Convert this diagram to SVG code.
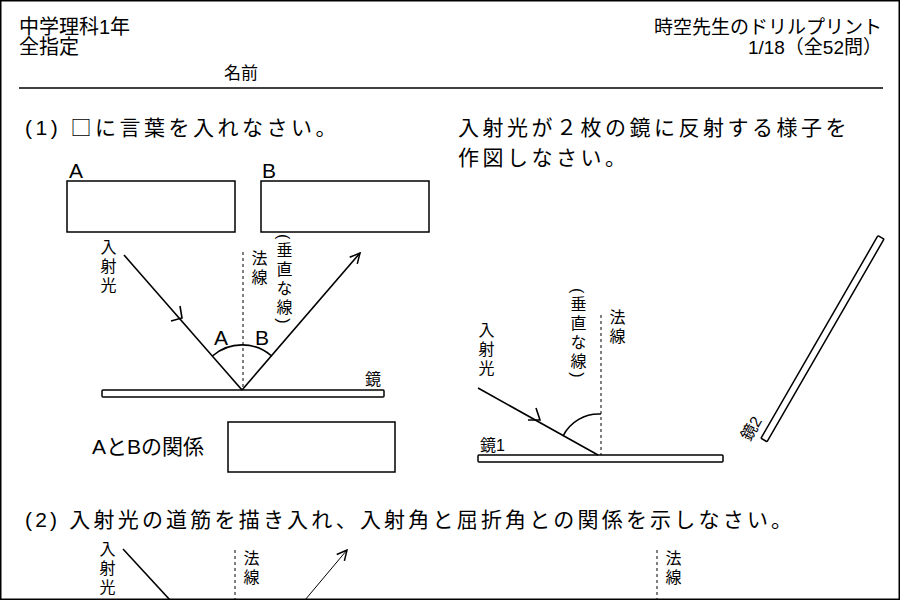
<svg xmlns="http://www.w3.org/2000/svg" width="900" height="600" viewBox="0 0 900 600">
<style>
text{font-family:"Liberation Sans","Noto Sans CJK JP",sans-serif;fill:#000}
.v{writing-mode:vertical-rl;font-size:16px;letter-spacing:3px}
.ln{stroke:#000;stroke-width:1.6;fill:none}
.dash{stroke:#000;stroke-width:1;stroke-dasharray:3,3;fill:none}
.box{fill:#fff;stroke:#000;stroke-width:1.5}
.cjk{font-family:"Noto Sans CJK JP",sans-serif}
</style>
<defs>
<marker id="ah" viewBox="0 0 12 12" refX="11" refY="6" markerWidth="12" markerHeight="12" markerUnits="userSpaceOnUse" orient="auto"><path d="M1,1 L11,6 L1,11" fill="none" stroke="#000" stroke-width="1.5"/></marker>
</defs>
<rect x="0.75" y="0.75" width="898.5" height="598.5" fill="#fff" stroke="#000" stroke-width="1.5"/>
<g id="header">
<text x="19" y="34" font-size="20">中学理科1年</text>
<text x="19" y="54" font-size="20">全指定</text>
<text x="882" y="34" font-size="19" text-anchor="end">時空先生のドリルプリント</text>
<text x="882" y="54" font-size="19" text-anchor="end">1/18（全52問）</text>
<text x="224" y="79" font-size="17">名前</text>
<line x1="19" y1="88" x2="883" y2="88" stroke="#000" stroke-width="1.5"/>
</g>
<g id="q1">
<text x="25" y="135" font-size="21" letter-spacing="3.5">(1) <tspan class="cjk">□</tspan>に言葉を入れなさい。</text>
<text x="69" y="178" font-size="21">A</text>
<text x="262" y="178" font-size="21">B</text>
<rect class="box" x="67" y="181" width="168" height="51"/>
<rect class="box" x="261" y="181" width="168" height="51"/>
<rect class="box" x="102" y="390" width="282" height="7" rx="1"/>
<text x="365" y="385" font-size="16">鏡</text>
<text class="v" x="107" y="239">入射光</text>
<text class="v" x="258" y="250">法線</text>
<text class="v" x="283" y="234">(垂直な線)</text>
<text x="214" y="345" font-size="21">A</text>
<text x="255" y="345" font-size="21">B</text>
<text x="92" y="454" font-size="21">AとBの関係</text>
<rect class="box" x="228" y="422" width="167" height="50"/>
</g>
<g id="q2">
<text x="458" y="135" font-size="21" letter-spacing="3.5">入射光が２枚の鏡に反射する様子を</text>
<text x="458" y="165" font-size="21" letter-spacing="3.5">作図しなさい。</text>
<rect class="box" x="478" y="455" width="245" height="7" rx="1"/>
<text x="480" y="451" font-size="16">鏡1</text>
<rect class="box" x="0" y="-3.5" width="234" height="7" rx="1" transform="translate(764,440) rotate(-60)"/>
<text x="0" y="0" font-size="16" transform="translate(750,442) rotate(-60)">鏡2</text>
<text class="v" x="485" y="322">入射光</text>
<text class="v" x="577" y="288">(垂直な線)</text>
<text class="v" x="616" y="309">法線</text>
</g>
<g id="q3">
<text x="25" y="527" font-size="21" letter-spacing="3.2">(2) 入射光の道筋を描き入れ、入射角と屈折角との関係を示しなさい。</text>
<text class="v" x="106" y="541">入射光</text>
<text class="v" x="250" y="550">法線</text>
<text class="v" x="672" y="550">法線</text>
</g>
<g id="connectors">
<line class="ln" x1="124" y1="255" x2="242" y2="390"/>
<path class="ln" d="M171,321 L182,318 L180,306"/>
<line class="ln" x1="242" y1="390" x2="360" y2="253" marker-end="url(#ah)"/>
<line class="dash" x1="243" y1="252" x2="243" y2="390"/>
<path class="ln" d="M212.4,356 A45,45 0 0 1 271.6,356"/>
<line class="ln" x1="478" y1="388" x2="598" y2="455"/>
<path class="ln" d="M528,420 L540,420 L536,408"/>
<line class="dash" x1="601" y1="315" x2="601" y2="455"/>
<path class="ln" d="M563,436 A40,40 0 0 1 601,414"/>
<line class="ln" x1="123" y1="549" x2="170" y2="600"/>
<line class="dash" x1="235" y1="550" x2="235" y2="600"/>
<line x1="305" y1="600" x2="347" y2="550" stroke="#000" stroke-width="1" marker-end="url(#ah)"/>
<line class="dash" x1="657" y1="550" x2="657" y2="600"/>
</g>
</svg>
